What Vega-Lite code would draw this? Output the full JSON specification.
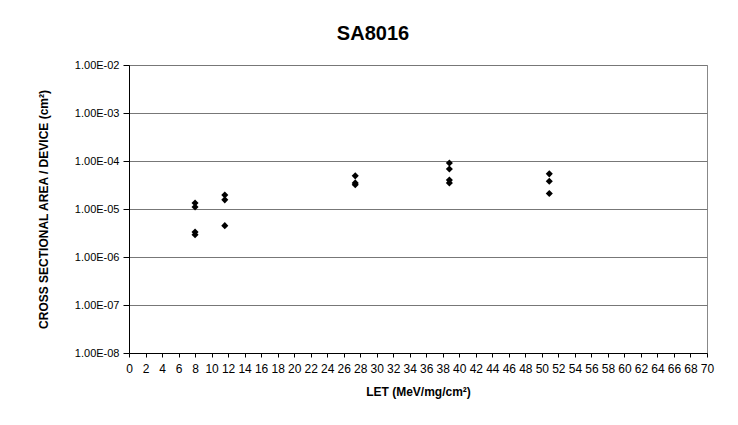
{
  "$schema": "https://vega.github.io/schema/vega-lite/v6.json",
  "autosize": "none",
  "width": 578,
  "height": 288,
  "padding": {"left": 129, "top": 65, "right": 31, "bottom": 72},
  "background": "white",
  "title": {"text": "SA8016", "font": "Liberation Sans", "fontSize": 20, "fontWeight": "bold", "color": "#000", "anchor": "middle", "offset": 15, "dx": -45},
  "config": {"view": {"stroke": "#888", "strokeWidth": 1}},
  "data": {"values": [
    {"let": 8, "xs": 1.33e-5},
    {"let": 8, "xs": 1.1e-5},
    {"let": 8, "xs": 3.3e-6},
    {"let": 8, "xs": 2.9e-6},
    {"let": 11.6, "xs": 1.95e-5},
    {"let": 11.6, "xs": 1.55e-5},
    {"let": 11.6, "xs": 4.5e-6},
    {"let": 27.4, "xs": 4.9e-5},
    {"let": 27.4, "xs": 3.5e-5},
    {"let": 27.4, "xs": 3.2e-5},
    {"let": 38.8, "xs": 9.1e-5},
    {"let": 38.8, "xs": 6.8e-5},
    {"let": 38.8, "xs": 4.0e-5},
    {"let": 38.8, "xs": 3.5e-5},
    {"let": 50.9, "xs": 5.4e-5},
    {"let": 50.9, "xs": 3.8e-5},
    {"let": 50.9, "xs": 2.1e-5}
  ]},
  "mark": {"type": "point", "shape": "diamond", "filled": true, "color": "#000", "size": 50, "opacity": 1},
  "encoding": {
    "x": {"field": "let", "type": "quantitative",
      "scale": {"domain": [0, 70], "nice": false, "zero": false},
      "axis": {"title": "LET (MeV/mg/cm²)", "values": [0,2,4,6,8,10,12,14,16,18,20,22,24,26,28,30,32,34,36,38,40,42,44,46,48,50,52,54,56,58,60,62,64,66,68,70],
        "grid": false, "domainColor": "#000", "tickColor": "#000", "tickSize": 4, "labelFont": "Liberation Sans", "labelFontSize": 12, "labelColor": "#000", "labelPadding": 6, "labelFlush": false, "labelOverlap": false,
        "titleFont": "Liberation Sans", "titleFontSize": 12, "titleFontWeight": "bold", "titleColor": "#000", "titlePadding": 12}},
    "y": {"field": "xs", "type": "quantitative",
      "scale": {"type": "log", "domain": [1e-8, 1e-2], "nice": false},
      "axis": {"title": "CROSS SECTIONAL AREA / DEVICE (cm²)", "values": [1e-8,1e-7,1e-6,1e-5,1e-4,1e-3,1e-2],
        "labelExpr": "'1.00E-0' + round(-log(datum.value)/LN10)",
        "grid": true, "gridColor": "#777", "gridWidth": 1, "domainColor": "#000", "tickColor": "#000", "tickSize": 6,
        "labelFont": "Liberation Sans", "labelFontSize": 11, "labelColor": "#000", "labelPadding": 4, "labelFlush": false,
        "titleFont": "Liberation Sans", "titleFontSize": 12, "titleFontWeight": "bold", "titleColor": "#000", "titlePadding": 24}}
  }
}
